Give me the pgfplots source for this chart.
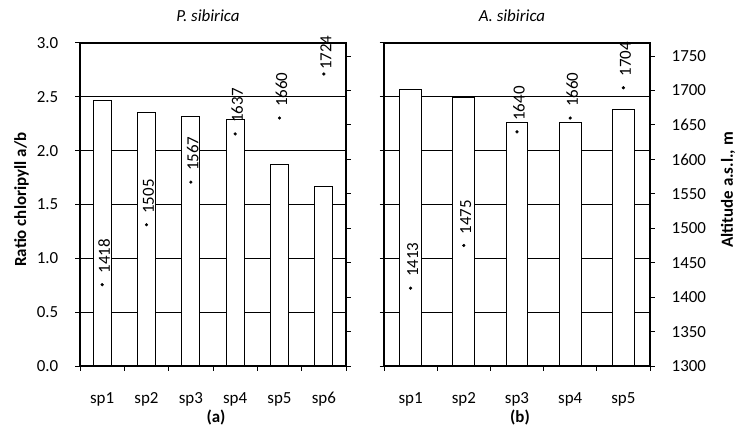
\documentclass[border=0pt]{standalone}
\usepackage{fontspec}
\setmainfont{Carlito}
\usepackage{pgfplots}
\pgfplotsset{compat=1.18}
\newcommand\fs{\fontsize{17}{20}\selectfont}
\pgfplotsset{
  common/.style={
    anchor=south west, scale only axis, width=266bp, height=323bp,
    ymin=0, ymax=3, ytick={0,0.5,...,3},
    axis x line*=bottom, axis y line*=left,
    ymajorgrids, major grid style={black, line width=1.2bp},
    axis line style={black, line width=1.8bp, -},
    tick align=outside, major tick length=4.5bp,
    tick style={black, line width=1bp},
    xtick style={draw=none},
    tick label style={font=\fs},
    yticklabel style={anchor=east, inner sep=0pt, xshift=-17bp,
      /pgf/number format/fixed, /pgf/number format/fixed zerofill,
      /pgf/number format/precision=1, /pgf/number format/assume math mode=true},
    xticklabel style={anchor=base, inner sep=0pt, yshift=-33bp},
    title style={at={(axis description cs:0.5,1)}, anchor=base, yshift=16bp, xshift=-5bp, font=\fs\itshape},
    xlabel style={at={(axis description cs:0.5,0)}, anchor=base, yshift=-56bp, xshift=3bp, font=\fs\bfseries},
    ylabel style={font=\fs\bfseries},
  },
  sec/.style={
    anchor=south west, scale only axis, width=266bp, height=323bp,
    ymin=1300, ymax=1769, ytick={1300,1350,...,1750},
    xtick pos=bottom, ytick pos=right, xticklabels={},
    axis line style={black, line width=1.8bp},
    tick align=outside, major tick length=4.5bp, tick style={black, line width=1bp},
    yticklabel style={anchor=west, inner sep=0pt, xshift=17bp, font=\fs,
      /pgf/number format/1000 sep={}, /pgf/number format/assume math mode=true},
    ylabel style={font=\fs\bfseries},
    nodes near coords, point meta=explicit symbolic,
    visualization depends on={\thisrow{g} \as \gap},
    nodes near coords style={font=\fs, rotate=90, anchor=west, inner sep=0pt, xshift=\gap bp, yshift=-2bp, black},
  },
  bars/.style={ybar, bar width=0.41, fill=white, draw=black, line width=1bp},
  dots/.style={only marks, mark=*, mark size=1.4bp, black},
}
\begin{document}
\begin{tikzpicture}
\useasboundingbox (0,0) rectangle (737bp,427bp);
% ---------- panel (a) ----------
\begin{axis}[common, at={(80bp,61bp)}, xmin=0.5, xmax=6.5,
  xtick={1,2,3,4,5,6}, xticklabels={sp1,sp2,sp3,sp4,sp5,sp6},
  title={P. sibirica}, xlabel={(a)},
  ylabel={Ratio chloripyll a/b},
  ylabel style={at={(axis description cs:-0.203,0.515)}, anchor=base}]
\addplot[bars] coordinates {(1,2.47) (2,2.35) (3,2.32) (4,2.285) (5,1.873) (6,1.67)};
\end{axis}
\begin{axis}[sec, at={(80bp,61bp)}, xmin=0.5, xmax=6.5, xtick={0.5,1.5,...,6.5}, yticklabels={}]
\addplot[dots] table[x=x, y=y, meta=lab] {
x y lab g
1 1418 1418 11
2 1505 1505 11
3 1567 1567 11
4 1637 1637 11
5 1660 1660 11
6 1724 1724 4
};
\end{axis}
% ---------- panel (b) ----------
\begin{axis}[common, at={(384bp,61bp)}, xmin=0.5, xmax=5.5,
  xtick={1,2,3,4,5}, xticklabels={sp1,sp2,sp3,sp4,sp5},
  yticklabels={},
  title={A. sibirica}, xlabel={(b)}]
\addplot[bars] coordinates {(1,2.57) (2,2.495) (3,2.26) (4,2.26) (5,2.385)};
\end{axis}
\begin{axis}[sec, at={(384bp,61bp)}, xmin=0.5, xmax=5.5, xtick={0.5,1.5,...,5.5},
  ylabel={Altitude a.s.l., m},
  ylabel style={at={(axis description cs:1.312,0.545)}, anchor=base}]
\addplot[dots] table[x=x, y=y, meta=lab] {
x y lab g
1 1413 1413 11
2 1475 1475 11
3 1640 1640 11
4 1660 1660 11
5 1704 1704 11
};
\end{axis}
\end{tikzpicture}
\end{document}
